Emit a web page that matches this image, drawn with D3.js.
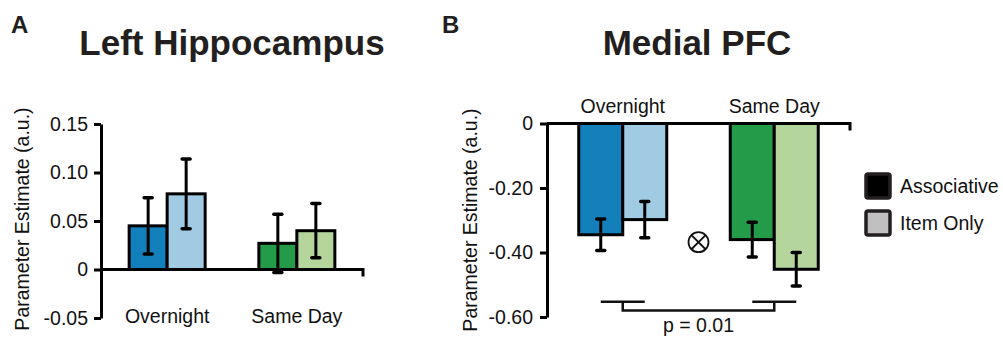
<!DOCTYPE html>
<html>
<head>
<meta charset="utf-8">
<script src="https://cdn.jsdelivr.net/npm/d3@7"></script>
<style>
  html, body { margin: 0; padding: 0; background: #fff; }
  svg { display: block; font-family: "Liberation Sans", Arial, Helvetica, sans-serif; }
</style>
</head>
<body>
<div id="chart"></div>
<script>
// data
const categories = ["Overnight", "Same Day"];
const series = ["Associative", "Item Only"];

const hippoAssoc = [0.045, 0.027];
const hippoAssocErr = [0.029, 0.030];
const hippoItem = [0.078, 0.040];
const hippoItemErr = [0.036, 0.028];
const hippoTicks = [-0.05, 0, 0.05, 0.10, 0.15];
const hippoTickLabels = ["-0.05", "0", "0.05", "0.10", "0.15"];

const pfcAssoc = [-0.345, -0.360];
const pfcAssocErr = [0.049, 0.054];
const pfcItem = [-0.298, -0.452];
const pfcItemErr = [0.056, 0.052];
const pfcTicks = [-0.60, -0.40, -0.20, 0];
const pfcTickLabels = ["-0.60", "-0.40", "-0.20", "0"];
const pfcPValue = "p = 0.01";

const legendFills = ["#000000", "#c0c0c0"];
const colors = {
  "Overnight": ["#1380bc", "#a1cbe2"],
  "Same Day": ["#239b48", "#b4d69d"]
};

const W = 1003, H = 342;
const svg = d3.select("#chart").append("svg").attr("width", W).attr("height", H);

function rows(assoc, assocErr, item, itemErr) {
  const out = [];
  categories.forEach((c, i) => {
    out.push({ cat: c, s: series[0], v: assoc[i], e: assocErr[i], k: 0 });
    out.push({ cat: c, s: series[1], v: item[i], e: itemErr[i], k: 1 });
  });
  return out;
}

function panel(opt) {
  const g = svg.append("g");
  const y = d3.scaleLinear().domain(opt.domain).range(opt.yRange);
  const x = d3.scalePoint().domain(categories).range(opt.xRange).padding(opt.pad);
  const inner = d3.scaleBand().domain(series).range([-opt.bw, opt.bw]);

  const data = rows(opt.assoc, opt.assocErr, opt.item, opt.itemErr);

  // bars
  g.selectAll(".bar").data(data).enter().append("rect")
    .attr("x", d => x(d.cat) + inner(d.s))
    .attr("width", inner.bandwidth())
    .attr("y", d => Math.min(y(d.v), y(0)))
    .attr("height", d => Math.abs(y(d.v) - y(0)))
    .attr("fill", d => colors[d.cat][d.k])
    .attr("stroke", "#000").attr("stroke-width", 3);

  // error bars
  const eb = g.selectAll(".err").data(data).enter().append("g")
    .attr("transform", d => `translate(${x(d.cat) + inner(d.s) + inner.bandwidth() / 2},0)`);
  eb.append("line")
    .attr("y1", d => y(d.v - d.e)).attr("y2", d => y(d.v + d.e))
    .attr("stroke", "#000").attr("stroke-width", 3);
  eb.selectAll(".cap").data(d => [d.v - d.e, d.v + d.e]).enter().append("line")
    .attr("x1", -4).attr("x2", 4)
    .attr("y1", v => y(v)).attr("y2", v => y(v))
    .attr("stroke", "#000").attr("stroke-width", 3.5).attr("stroke-linecap", "round");

  // y axis
  const ax = g.append("g").attr("transform", `translate(${opt.xRange[0]},0)`)
    .call(d3.axisLeft(y).tickValues(opt.ticks)
      .tickFormat((d, i) => opt.tickLabels[i])
      .tickSize(7).tickSizeOuter(0).tickPadding(opt.tickPad));
  ax.select(".domain").attr("stroke", "#000").attr("stroke-width", 3);
  ax.selectAll(".tick line").attr("stroke", "#000").attr("stroke-width", 3);
  ax.selectAll(".tick text").attr("font-size", 19.5).attr("fill", "#111")
    .attr("font-family", "'Liberation Sans', Arial, sans-serif");

  // zero line with end tick
  const x0 = opt.xRange[0], x1 = opt.xRange[1], y0 = y(0);
  g.append("path")
    .attr("d", `M${x0},${y0}H${x1}V${y0 + 7}`)
    .attr("fill", "none").attr("stroke", "#000").attr("stroke-width", 3);

  // category labels
  g.selectAll(".cat").data(categories).enter().append("text")
    .attr("x", d => x(d)).attr("y", opt.catY)
    .attr("text-anchor", "middle").attr("font-size", 19.5).attr("fill", "#111")
    .text(d => d);

  // y label
  g.append("text")
    .attr("transform", `translate(${opt.labelX},${opt.labelY}) rotate(-90)`)
    .attr("text-anchor", "middle").attr("font-size", 19.5).attr("fill", "#111")
    .text("Parameter Estimate (a.u.)");

  // title and panel letter
  g.append("text").attr("x", opt.titleX).attr("y", 55)
    .attr("text-anchor", "middle").attr("font-size", 35).attr("font-weight", "bold")
    .attr("fill", "#231f20").text(opt.title);
  g.append("text").attr("x", opt.letterX).attr("y", 33)
    .attr("font-size", 24).attr("font-weight", "bold").attr("fill", "#231f20").text(opt.letter);

  return { g, x, y };
}

panel({
  domain: [-0.05, 0.15], yRange: [318, 124], xRange: [101, 363], pad: 0.51, bw: 38,
  assoc: hippoAssoc, assocErr: hippoAssocErr, item: hippoItem, itemErr: hippoItemErr,
  ticks: hippoTicks, tickLabels: hippoTickLabels, tickPad: 6,
  catY: 323, labelX: 29, labelY: 219,
  title: "Left Hippocampus", titleX: 232, letter: "A", letterX: 11
});

const pb = panel({
  domain: [-0.6, 0], yRange: [317, 123.5], xRange: [547, 850], pad: 0.5, bw: 44,
  assoc: pfcAssoc, assocErr: pfcAssocErr, item: pfcItem, itemErr: pfcItemErr,
  ticks: pfcTicks, tickLabels: pfcTickLabels, tickPad: 7,
  catY: 113, labelX: 477, labelY: 220,
  title: "Medial PFC", titleX: 697, letter: "B", letterX: 442
});

// interaction symbol
{
  const cx = (pb.x(categories[0]) + pb.x(categories[1])) / 2;
  const cy = pb.y(-0.368);
  const r = 10;
  const s = pb.g.append("g").attr("transform", `translate(${cx},${cy})`)
    .attr("stroke", "#111").attr("stroke-width", 1.8).attr("fill", "none");
  s.append("circle").attr("r", r);
  const d = r * Math.SQRT1_2;
  s.append("line").attr("x1", -d).attr("y1", -d).attr("x2", d).attr("y2", d);
  s.append("line").attr("x1", -d).attr("y1", d).attr("x2", d).attr("y2", -d);
}

// significance bracket
{
  const a = pb.x(categories[0]), b = pb.x(categories[1]);
  const yTop = pb.y(-0.553), yBot = pb.y(-0.58);
  const br = pb.g.append("g").attr("stroke", "#111").attr("stroke-width", 2.5).attr("fill", "none");
  br.append("line").attr("x1", a - 22).attr("x2", a + 22).attr("y1", yTop).attr("y2", yTop);
  br.append("line").attr("x1", b - 22).attr("x2", b + 22).attr("y1", yTop).attr("y2", yTop);
  br.append("path").attr("d", `M${a},${yTop}V${yBot}H${b}V${yTop}`);
  pb.g.append("text").attr("x", (a + b) / 2).attr("y", 332)
    .attr("text-anchor", "middle").attr("font-size", 19.5).attr("fill", "#111").text(pfcPValue);
}

// legend
const lg = svg.append("g").attr("transform", "translate(866,174)");
const li = lg.selectAll("g").data(series).enter().append("g")
  .attr("transform", (d, i) => `translate(0,${i * 37})`);
li.append("rect").attr("x", 0).attr("y", 0).attr("width", 24).attr("height", 24)
  .attr("rx", 2).attr("fill", (d, i) => legendFills[i])
  .attr("stroke", "#231f20").attr("stroke-width", 3.5);
li.append("text").attr("x", 34).attr("y", 19).attr("font-size", 19.5).attr("fill", "#111")
  .text(d => d);
</script>
</body>
</html>
